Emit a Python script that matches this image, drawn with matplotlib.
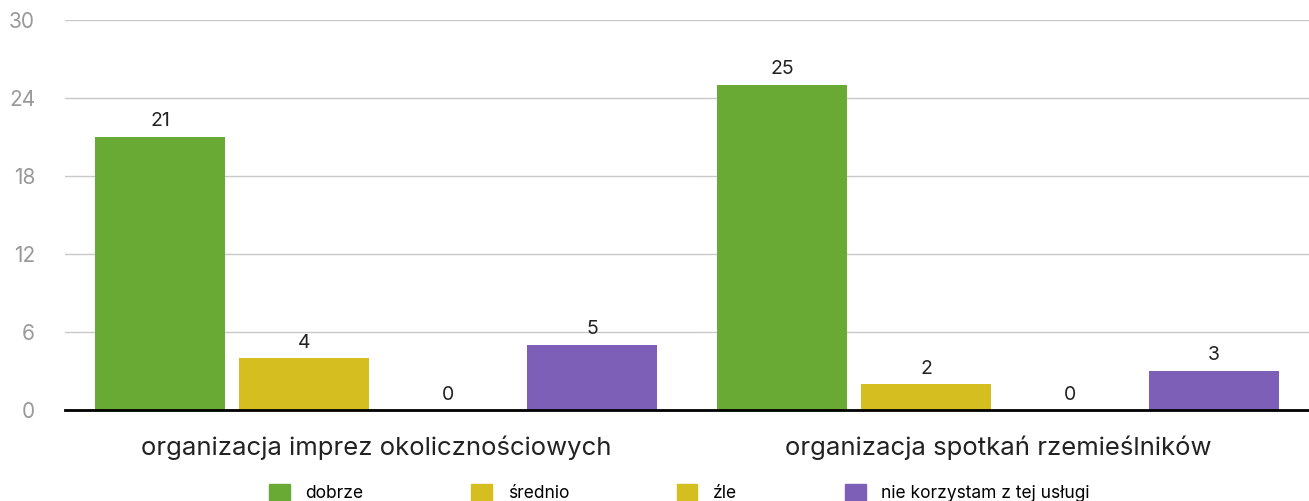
import numpy as np
import matplotlib.pyplot as plt
from matplotlib.patches import Patch

plt.rcParams['font.family'] = ['Inter', 'DejaVu Sans']

categories = ['organizacja imprez okolicznościowych', 'organizacja spotkań rzemieślników']
series = ['dobrze', 'średnio', 'źle', 'nie korzystam z tej usługi']
values = [[21, 25], [4, 2], [0, 0], [5, 3]]
colors = ['#69aa35', '#d5be1f', '#d5be1f', '#7d5fb8']
yticks = [0, 6, 12, 18, 24, 30]

fig = plt.figure(figsize=(13.09, 5.01), dpi=100)
ax = fig.add_axes([65/1309, 1-410/501, 1-65/1309, 390/501])

x = np.arange(len(categories))
step = 0.2315
width = 0.21
for i, (s, v, c) in enumerate(zip(series, values, colors)):
    pos = x + (i - 1.5) * step
    bars = ax.bar(pos, v, width, color=c, zorder=3)
    for xp, val in zip(pos, v):
        ax.text(xp, val + 0.5, str(val), ha='center', va='bottom',
                fontsize=14, color='#222222', zorder=4)

ax.set_xlim(-0.5, 1.5)
ax.set_ylim(0, 30)
ax.set_yticks(yticks)
ax.yaxis.grid(True, color='#c8c8c8', linewidth=1, zorder=0)
ax.tick_params(axis='y', length=0, labelsize=15, labelcolor='#999999', pad=21.5)
ax.set_xticks(x)
ax.set_xticklabels(categories, fontsize=18.5, color='#222222')
ax.tick_params(axis='x', length=0, pad=18)
for sp in ['top', 'right', 'left']:
    ax.spines[sp].set_visible(False)
ax.spines['bottom'].set_color('black')
ax.spines['bottom'].set_linewidth(2)
ax.spines['bottom'].set_zorder(5)

handles = [Patch(color=c) for c in colors]
fig.legend(handles, series, loc='lower center', bbox_to_anchor=(0.519, -0.034), ncol=4,
           frameon=False, fontsize=12.5, handlelength=1.2, handleheight=1.2,
           handletextpad=0.9, columnspacing=6.2)

fig.savefig('out.png', dpi=100)
